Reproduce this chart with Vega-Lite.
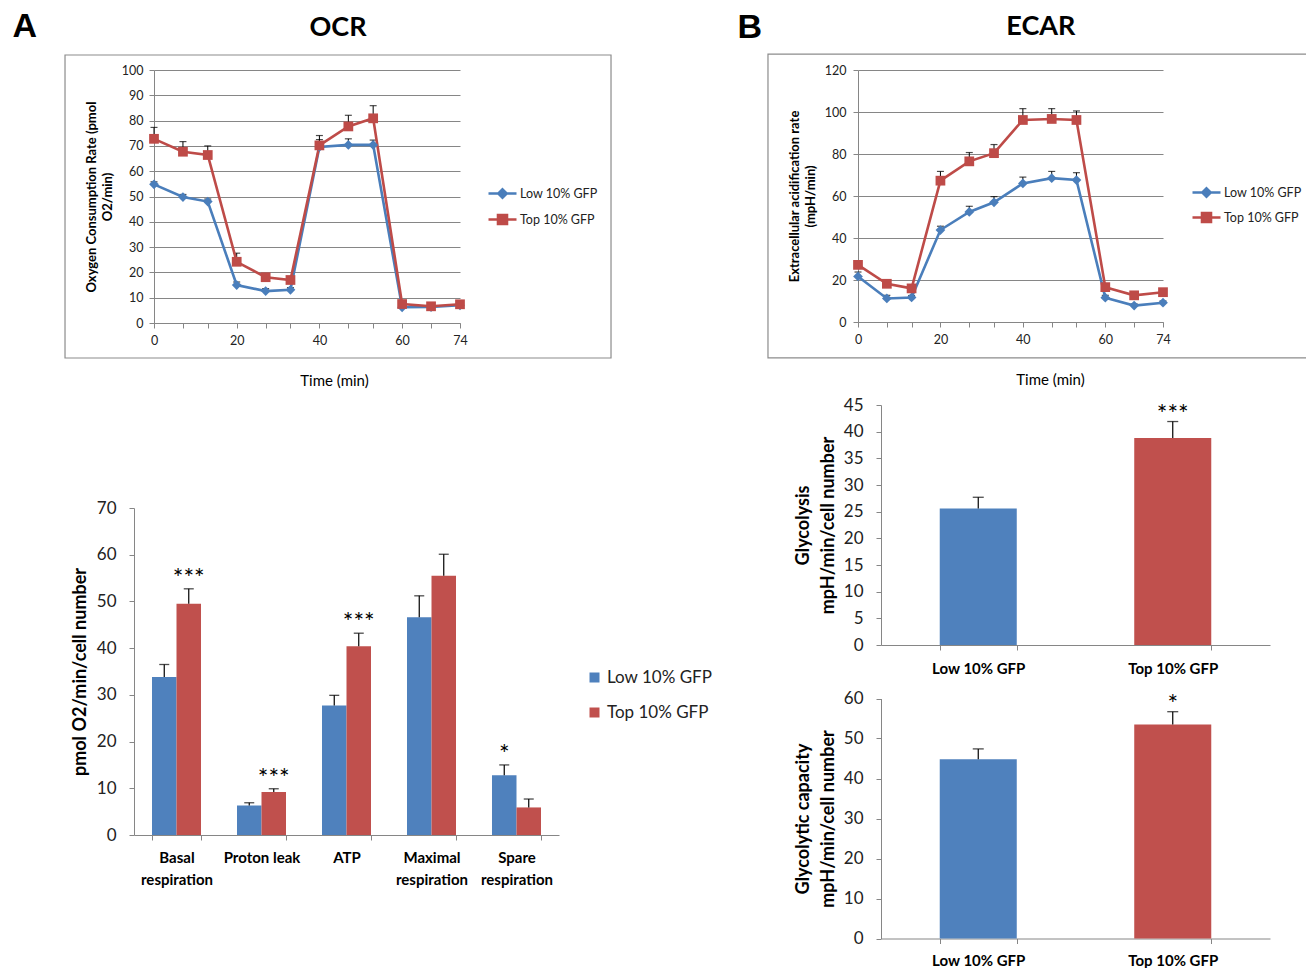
{
  "$schema": "https://vega.github.io/schema/vega-lite/v6.json",
  "background": "white",
  "padding": {"left": 12, "top": 10, "right": 0, "bottom": 0},
  "config": {
    "view": {"stroke": null},
    "font": "Lato",
    "axis": {"labelFont": "Lato", "titleFont": "Lato", "labelColor": "#222", "titleColor": "#000", "domainColor": "#868686", "tickColor": "#868686", "labelFlush": false, "labelOverlap": false}
  },
  "datasets": {
    "ocr": [
      {"t": 0, "series": "Low 10% GFP", "v": 54.8, "hi": 55.8},
      {"t": 7, "series": "Low 10% GFP", "v": 49.8, "hi": 50.8},
      {"t": 13, "series": "Low 10% GFP", "v": 48.0, "hi": 49.0},
      {"t": 20, "series": "Low 10% GFP", "v": 15.0, "hi": 16.2},
      {"t": 27, "series": "Low 10% GFP", "v": 12.6, "hi": 13.6},
      {"t": 33, "series": "Low 10% GFP", "v": 13.1, "hi": 14.0},
      {"t": 40, "series": "Low 10% GFP", "v": 69.6, "hi": 72.5},
      {"t": 47, "series": "Low 10% GFP", "v": 70.4, "hi": 72.8},
      {"t": 53, "series": "Low 10% GFP", "v": 70.4, "hi": 72.3},
      {"t": 60, "series": "Low 10% GFP", "v": 6.2, "hi": 7.0},
      {"t": 67, "series": "Low 10% GFP", "v": 6.3, "hi": 7.0},
      {"t": 74, "series": "Low 10% GFP", "v": 7.0, "hi": 7.6},
      {"t": 0, "series": "Top 10% GFP", "v": 72.8, "hi": 77.3},
      {"t": 7, "series": "Top 10% GFP", "v": 67.7, "hi": 71.7},
      {"t": 13, "series": "Top 10% GFP", "v": 66.4, "hi": 70.0},
      {"t": 20, "series": "Top 10% GFP", "v": 24.2, "hi": 27.6},
      {"t": 27, "series": "Top 10% GFP", "v": 18.1, "hi": 19.3},
      {"t": 33, "series": "Top 10% GFP", "v": 17.0, "hi": 18.3},
      {"t": 40, "series": "Top 10% GFP", "v": 70.2, "hi": 74.1},
      {"t": 47, "series": "Top 10% GFP", "v": 77.7, "hi": 82.1},
      {"t": 53, "series": "Top 10% GFP", "v": 80.9, "hi": 85.9},
      {"t": 60, "series": "Top 10% GFP", "v": 7.5, "hi": 8.5},
      {"t": 67, "series": "Top 10% GFP", "v": 6.6, "hi": 7.4},
      {"t": 74, "series": "Top 10% GFP", "v": 7.4, "hi": 8.2}
    ],
    "ecar": [
      {"t": 0, "series": "Low 10% GFP", "v": 21.7, "hi": 23.8},
      {"t": 7, "series": "Low 10% GFP", "v": 11.2, "hi": 12.7},
      {"t": 13, "series": "Low 10% GFP", "v": 11.7, "hi": 12.6},
      {"t": 20, "series": "Low 10% GFP", "v": 43.8, "hi": 45.6},
      {"t": 27, "series": "Low 10% GFP", "v": 52.4, "hi": 55.1},
      {"t": 33, "series": "Low 10% GFP", "v": 57.0, "hi": 59.7},
      {"t": 40, "series": "Low 10% GFP", "v": 66.0, "hi": 69.0},
      {"t": 47, "series": "Low 10% GFP", "v": 68.5, "hi": 71.7},
      {"t": 53, "series": "Low 10% GFP", "v": 67.6, "hi": 71.1},
      {"t": 60, "series": "Low 10% GFP", "v": 11.6, "hi": 12.7},
      {"t": 67, "series": "Low 10% GFP", "v": 7.8, "hi": 8.6},
      {"t": 74, "series": "Low 10% GFP", "v": 9.2, "hi": 10.0},
      {"t": 0, "series": "Top 10% GFP", "v": 27.2, "hi": 28.2},
      {"t": 7, "series": "Top 10% GFP", "v": 18.2, "hi": 19.0},
      {"t": 13, "series": "Top 10% GFP", "v": 16.0, "hi": 17.0},
      {"t": 20, "series": "Top 10% GFP", "v": 67.3, "hi": 71.7},
      {"t": 27, "series": "Top 10% GFP", "v": 76.5, "hi": 80.7},
      {"t": 33, "series": "Top 10% GFP", "v": 80.4, "hi": 84.5},
      {"t": 40, "series": "Top 10% GFP", "v": 96.2, "hi": 101.6},
      {"t": 47, "series": "Top 10% GFP", "v": 96.7, "hi": 101.6},
      {"t": 53, "series": "Top 10% GFP", "v": 96.2, "hi": 100.5},
      {"t": 60, "series": "Top 10% GFP", "v": 16.6, "hi": 17.5},
      {"t": 67, "series": "Top 10% GFP", "v": 12.7, "hi": 13.5},
      {"t": 74, "series": "Top 10% GFP", "v": 14.2, "hi": 15.0}
    ],
    "resp": [
      {"param": "Basal respiration", "series": "Low 10% GFP", "v": 33.8, "hi": 36.5, "sig": ""},
      {"param": "Basal respiration", "series": "Top 10% GFP", "v": 49.5, "hi": 52.7, "sig": "***"},
      {"param": "Proton leak", "series": "Low 10% GFP", "v": 6.3, "hi": 6.9, "sig": ""},
      {"param": "Proton leak", "series": "Top 10% GFP", "v": 9.2, "hi": 9.9, "sig": "***"},
      {"param": "ATP", "series": "Low 10% GFP", "v": 27.7, "hi": 29.9, "sig": ""},
      {"param": "ATP", "series": "Top 10% GFP", "v": 40.4, "hi": 43.2, "sig": "***"},
      {"param": "Maximal respiration", "series": "Low 10% GFP", "v": 46.6, "hi": 51.2, "sig": ""},
      {"param": "Maximal respiration", "series": "Top 10% GFP", "v": 55.5, "hi": 60.1, "sig": ""},
      {"param": "Spare respiration", "series": "Low 10% GFP", "v": 12.8, "hi": 15.0, "sig": "*"},
      {"param": "Spare respiration", "series": "Top 10% GFP", "v": 5.9, "hi": 7.7, "sig": ""}
    ],
    "gly": [
      {"series": "Low 10% GFP", "v": 25.6, "hi": 27.7, "sig": ""},
      {"series": "Top 10% GFP", "v": 38.8, "hi": 41.9, "sig": "***"}
    ],
    "glycap": [
      {"series": "Low 10% GFP", "v": 44.8, "hi": 47.4, "sig": ""},
      {"series": "Top 10% GFP", "v": 53.5, "hi": 56.7, "sig": "*"}
    ]
  },
  "hconcat": [
    {
      "title": {"text": "A", "font": "Liberation Sans", "fontSize": 34, "fontWeight": "bold", "color": "#000", "anchor": "start", "frame": "bounds", "dx": -52, "dy": 34},
      "spacing": 111,
      "resolve": {"scale": {"color": "independent"}, "legend": {"color": "independent"}},
      "vconcat": [
        {
          "width": 306,
          "height": 253,
          "title": {"text": "OCR", "font": "Lato", "fontSize": 27, "fontWeight": "bold", "color": "#000", "anchor": "middle", "frame": "bounds", "offset": 12},
          "data": {"name": "ocr"},
          "layer": [
            {
              "data": {"values": [{}]},
              "mark": {"type": "rect", "filled": false, "color": "#8c8c8c", "strokeWidth": 1.2},
              "encoding": {
                "x": {"datum": -21.52, "type": "quantitative", "scale": {"domain": [0, 74], "nice": false, "zero": false}},
                "x2": {"datum": 110.52},
                "y": {"datum": 105.93, "type": "quantitative", "scale": {"domain": [0, 100], "nice": false}},
                "y2": {"datum": -13.83}
              }
            },
            {
              "mark": {"type": "rule", "color": "#000", "strokeWidth": 1},
              "encoding": {
                "x": {"field": "t", "type": "quantitative"},
                "y": {"field": "v", "type": "quantitative"},
                "y2": {"field": "hi"}
              }
            },
            {
              "mark": {"type": "tick", "color": "#000", "orient": "horizontal", "size": 7, "thickness": 1.2},
              "encoding": {
                "x": {"field": "t", "type": "quantitative"},
                "y": {"field": "hi", "type": "quantitative"}
              }
            },
            {
              "mark": {"type": "line", "strokeWidth": 2.6},
              "encoding": {
                "x": {"field": "t", "type": "quantitative",
                  "axis": {"values": [0, 7, 13, 20, 27, 33, 40, 47, 53, 60, 67, 74], "tickCount": 40, "labelExpr": "indexof([0,20,40,60,74], datum.value) >= 0 ? datum.label : ''", "labelOverlap": false, "labelFlush": false, "grid": false, "tickSize": 5, "labelFontSize": 12.5, "labelPadding": 6, "title": "Time (min)", "titleFontSize": 15, "titleFontWeight": "normal", "titleX": 180, "titleY": 62, "titleBaseline": "alphabetic", "titleAlign": "center"}},
                "y": {"field": "v", "type": "quantitative",
                  "axis": {"values": [0, 10, 20, 30, 40, 50, 60, 70, 80, 90, 100], "tickCount": 40, "labelOverlap": false, "grid": true, "gridColor": "#868686", "tickSize": 5, "labelFontSize": 12.5, "labelPadding": 6, "title": ["Oxygen Consumption Rate (pmol", "O2/min)"], "titleFontSize": 13, "titleFontWeight": "bold", "titleLineHeight": 16, "titlePadding": 7}},
                "color": {"field": "series", "type": "nominal",
                  "scale": {"domain": ["Low 10% GFP", "Top 10% GFP"], "range": ["#4A7EBB", "#BE4B48"]},
                  "legend": {"orient": "none", "legendX": 333, "legendY": 108, "title": null, "padding": 0, "symbolType": "M-1,0H1", "symbolSize": 784, "symbolStrokeWidth": 2.6, "labelFont": "Lato", "labelFontSize": 12.5, "labelColor": "#222", "labelOffset": 2, "rowPadding": 1,
                    "encode": {"symbols": {"update": {
                      "shape": {"signal": "datum.value === 'Low 10% GFP' ? 'M-1,0H1M0,-0.3L0.3,0L0,0.3L-0.3,0Z' : 'M-1,0H1M-0.32,-0.32H0.32V0.32H-0.32Z'"},
                      "size": {"value": 784},
                      "strokeWidth": {"value": 2.6},
                      "stroke": {"signal": "datum.value === 'Low 10% GFP' ? '#4A7EBB' : '#BE4B48'"},
                      "fill": {"signal": "datum.value === 'Low 10% GFP' ? '#4A7EBB' : '#BE4B48'"}}}}}}
              }
            },
            {
              "mark": {"type": "point", "filled": true, "opacity": 1, "size": 95},
              "encoding": {
                "x": {"field": "t", "type": "quantitative"},
                "y": {"field": "v", "type": "quantitative"},
                "color": {"field": "series", "type": "nominal"},
                "shape": {"condition": {"test": "datum.series === 'Low 10% GFP'", "value": "diamond"}, "value": "square"}
              }
            }
          ]
        },
        {
          "width": 405,
          "height": 327,
          "data": {"name": "resp"},
          "encoding": {
            "x": {"field": "param", "type": "nominal", "sort": ["Basal respiration", "Proton leak", "ATP", "Maximal respiration", "Spare respiration"],
              "scale": {"range": [-20, 405], "paddingInner": 0.4235, "paddingOuter": 0.2118},
              "axis": {"title": null, "tickBand": "extent", "labelAngle": 0, "tickSize": 5, "labelFontSize": 15, "labelFontWeight": "bold", "labelColor": "#000", "labelLineHeight": 22, "labelPadding": 10,
                "labelExpr": "datum.label == 'Proton leak' || datum.label == 'ATP' ? datum.label : split(datum.label, ' ')"}},
            "xOffset": {"field": "series", "type": "nominal", "sort": ["Low 10% GFP", "Top 10% GFP"], "scale": {"paddingInner": 0, "paddingOuter": 0}},
            "y": {"field": "v", "type": "quantitative", "scale": {"domain": [0, 70], "nice": false},
              "axis": {"values": [0, 10, 20, 30, 40, 50, 60, 70], "tickCount": 40, "labelOverlap": false, "offset": 20, "grid": false, "tickSize": 5, "labelFontSize": 17, "labelPadding": 13, "title": "pmol O2/min/cell number", "titleFontSize": 18, "titleFontWeight": "bold", "titlePadding": 7}}
          },
          "layer": [
            {
              "mark": {"type": "bar"},
              "encoding": {
                "color": {"field": "series", "type": "nominal",
                  "scale": {"domain": ["Low 10% GFP", "Top 10% GFP"], "range": ["#4F81BD", "#C0504D"]},
                  "legend": {"orient": "none", "legendX": 432, "legendY": 161, "title": null, "padding": 0, "symbolType": "square", "symbolSize": 100, "symbolStrokeWidth": 0, "labelFont": "Lato", "labelFontSize": 17, "labelColor": "#222", "labelOffset": 4, "rowPadding": 17}}
              }
            },
            {
              "mark": {"type": "rule", "color": "#000", "strokeWidth": 1.2},
              "encoding": {"y2": {"field": "hi"}}
            },
            {
              "mark": {"type": "tick", "color": "#000", "orient": "horizontal", "size": 10, "thickness": 1.3},
              "encoding": {"y": {"field": "hi", "type": "quantitative"}}
            },
            {
              "mark": {"type": "text", "fontSize": 25, "font": "Lato", "color": "#000", "baseline": "alphabetic", "dy": -2},
              "encoding": {"y": {"field": "hi", "type": "quantitative"}, "text": {"field": "sig"}}
            }
          ]
        }
      ]
    },
    {
      "title": {"text": "B", "font": "Liberation Sans", "fontSize": 34, "fontWeight": "bold", "color": "#000", "anchor": "start", "frame": "bounds", "dx": -30, "dy": 36},
      "spacing": 9,
      "resolve": {"scale": {"color": "independent"}, "legend": {"color": "independent"}},
      "vconcat": [
        {
          "width": 305,
          "height": 252,
          "title": {"text": "ECAR", "font": "Lato", "fontSize": 27, "fontWeight": "bold", "color": "#000", "anchor": "middle", "frame": "bounds", "offset": 12},
          "data": {"name": "ecar"},
          "layer": [
            {
              "data": {"values": [{}]},
              "mark": {"type": "rect", "filled": false, "color": "#8c8c8c", "strokeWidth": 1.2},
              "encoding": {
                "x": {"datum": -21.84, "type": "quantitative", "scale": {"domain": [0, 74], "nice": false, "zero": false}},
                "x2": {"datum": 110.6},
                "y": {"datum": 127.6, "type": "quantitative", "scale": {"domain": [0, 120], "nice": false}},
                "y2": {"datum": -17.1}
              }
            },
            {
              "mark": {"type": "rule", "color": "#000", "strokeWidth": 1},
              "encoding": {
                "x": {"field": "t", "type": "quantitative"},
                "y": {"field": "v", "type": "quantitative"},
                "y2": {"field": "hi"}
              }
            },
            {
              "mark": {"type": "tick", "color": "#000", "orient": "horizontal", "size": 7, "thickness": 1.2},
              "encoding": {
                "x": {"field": "t", "type": "quantitative"},
                "y": {"field": "hi", "type": "quantitative"}
              }
            },
            {
              "mark": {"type": "line", "strokeWidth": 2.6},
              "encoding": {
                "x": {"field": "t", "type": "quantitative",
                  "axis": {"values": [0, 7, 13, 20, 27, 33, 40, 47, 53, 60, 67, 74], "tickCount": 40, "labelExpr": "indexof([0,20,40,60,74], datum.value) >= 0 ? datum.label : ''", "labelOverlap": false, "labelFlush": false, "grid": false, "tickSize": 5, "labelFontSize": 12.5, "labelPadding": 6, "title": "Time (min)", "titleFontSize": 15, "titleFontWeight": "normal", "titleX": 192, "titleY": 62, "titleBaseline": "alphabetic", "titleAlign": "center"}},
                "y": {"field": "v", "type": "quantitative",
                  "axis": {"values": [0, 20, 40, 60, 80, 100, 120], "tickCount": 40, "labelOverlap": false, "grid": true, "gridColor": "#868686", "tickSize": 5, "labelFontSize": 12.5, "labelPadding": 7, "title": ["Extracellular acidification  rate", "(mpH/min)"], "titleFontSize": 13, "titleFontWeight": "bold", "titleLineHeight": 16, "titlePadding": 7}},
                "color": {"field": "series", "type": "nominal",
                  "scale": {"domain": ["Low 10% GFP", "Top 10% GFP"], "range": ["#4A7EBB", "#BE4B48"]},
                  "legend": {"orient": "none", "legendX": 333, "legendY": 107, "title": null, "padding": 0, "symbolType": "M-1,0H1", "symbolSize": 784, "symbolStrokeWidth": 2.6, "labelFont": "Lato", "labelFontSize": 12.5, "labelColor": "#222", "labelOffset": 2, "rowPadding": 0,
                    "encode": {"symbols": {"update": {
                      "shape": {"signal": "datum.value === 'Low 10% GFP' ? 'M-1,0H1M0,-0.3L0.3,0L0,0.3L-0.3,0Z' : 'M-1,0H1M-0.32,-0.32H0.32V0.32H-0.32Z'"},
                      "size": {"value": 784},
                      "strokeWidth": {"value": 2.6},
                      "stroke": {"signal": "datum.value === 'Low 10% GFP' ? '#4A7EBB' : '#BE4B48'"},
                      "fill": {"signal": "datum.value === 'Low 10% GFP' ? '#4A7EBB' : '#BE4B48'"}}}}}}
              }
            },
            {
              "mark": {"type": "point", "filled": true, "opacity": 1, "size": 95},
              "encoding": {
                "x": {"field": "t", "type": "quantitative"},
                "y": {"field": "v", "type": "quantitative"},
                "color": {"field": "series", "type": "nominal"},
                "shape": {"condition": {"test": "datum.series === 'Low 10% GFP'", "value": "diamond"}, "value": "square"}
              }
            }
          ]
        },
        {
          "width": 412,
          "height": 240,
          "data": {"name": "gly"},
          "encoding": {
            "x": {"field": "series", "type": "nominal", "sort": ["Low 10% GFP", "Top 10% GFP"],
              "scale": {"range": [23, 412], "paddingInner": 0.604, "paddingOuter": 0.302},
              "axis": {"title": null, "tickBand": "extent", "labelAngle": 0, "tickSize": 5, "labelFontSize": 15, "labelFontWeight": "bold", "labelColor": "#000", "labelPadding": 11}},
            "y": {"field": "v", "type": "quantitative", "scale": {"domain": [0, 45], "nice": false},
              "axis": {"values": [0, 5, 10, 15, 20, 25, 30, 35, 40, 45], "tickCount": 40, "labelOverlap": false, "offset": -23, "grid": false, "tickSize": 5, "labelFontSize": 17, "labelPadding": 13, "title": ["Glycolysis", "mpH/min/cell number"], "titleFontSize": 18, "titleFontWeight": "bold", "titleLineHeight": 25, "titlePadding": 6}}
          },
          "layer": [
            {
              "mark": {"type": "bar"},
              "encoding": {"color": {"field": "series", "type": "nominal", "scale": {"domain": ["Low 10% GFP", "Top 10% GFP"], "range": ["#4F81BD", "#C0504D"]}, "legend": null}}
            },
            {"mark": {"type": "rule", "color": "#000", "strokeWidth": 1.2}, "encoding": {"y2": {"field": "hi"}}},
            {"mark": {"type": "tick", "color": "#000", "orient": "horizontal", "size": 11, "thickness": 1.3}, "encoding": {"y": {"field": "hi", "type": "quantitative"}}},
            {"mark": {"type": "text", "fontSize": 25, "font": "Lato", "color": "#000", "baseline": "alphabetic", "dy": 1}, "encoding": {"y": {"field": "hi", "type": "quantitative"}, "text": {"field": "sig"}}}
          ]
        },
        {
          "width": 412,
          "height": 253.5,
          "data": {"name": "glycap"},
          "encoding": {
            "x": {"field": "series", "type": "nominal", "sort": ["Low 10% GFP", "Top 10% GFP"],
              "scale": {"range": [23, 412], "paddingInner": 0.604, "paddingOuter": 0.302},
              "axis": {"title": null, "tickBand": "extent", "labelAngle": 0, "tickSize": 5, "labelFontSize": 15, "labelFontWeight": "bold", "labelColor": "#000", "labelPadding": 10}},
            "y": {"field": "v", "type": "quantitative", "scale": {"domain": [0, 60], "nice": false, "range": [253.5, 13.5]},
              "axis": {"values": [0, 10, 20, 30, 40, 50, 60], "tickCount": 40, "labelOverlap": false, "offset": -23, "grid": false, "tickSize": 5, "labelFontSize": 17, "labelPadding": 13, "title": ["Glycolytic capacity", "mpH/min/cell number"], "titleFontSize": 18, "titleFontWeight": "bold", "titleLineHeight": 25, "titlePadding": 6}}
          },
          "layer": [
            {
              "mark": {"type": "bar"},
              "encoding": {"color": {"field": "series", "type": "nominal", "scale": {"domain": ["Low 10% GFP", "Top 10% GFP"], "range": ["#4F81BD", "#C0504D"]}, "legend": null}}
            },
            {"mark": {"type": "rule", "color": "#000", "strokeWidth": 1.2}, "encoding": {"y2": {"field": "hi"}}},
            {"mark": {"type": "tick", "color": "#000", "orient": "horizontal", "size": 11, "thickness": 1.3}, "encoding": {"y": {"field": "hi", "type": "quantitative"}}},
            {"mark": {"type": "text", "fontSize": 25, "font": "Lato", "color": "#000", "baseline": "alphabetic", "dy": 1}, "encoding": {"y": {"field": "hi", "type": "quantitative"}, "text": {"field": "sig"}}}
          ]
        }
      ]
    }
  ],
  "spacing": 24,
  "resolve": {"scale": {"color": "independent"}, "legend": {"color": "independent"}}
}
